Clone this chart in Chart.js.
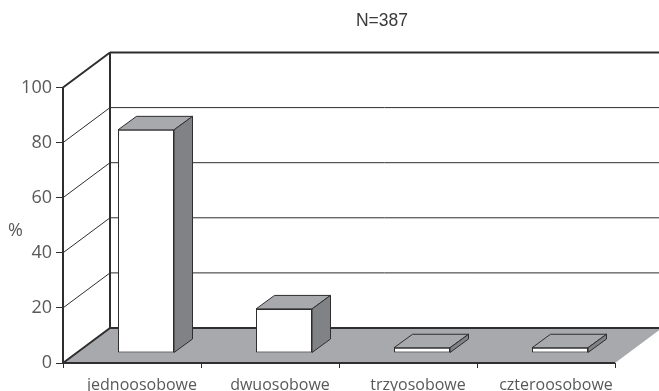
<!DOCTYPE html>
<html>
<head>
<meta charset="utf-8">
<style>
    html, body { margin: 0; padding: 0; background: #fff; overflow: hidden; }
    #wrap { width: 659px; height: 391px; }
</style>
<script src="https://cdn.jsdelivr.net/npm/chart.js@4"></script>
</head>
<body>
<div id="wrap"><canvas id="chart" width="659" height="391"></canvas></div>
<script>
var categories = ['jednoosobowe', 'dwuosobowe', 'trzyosobowe', 'czteroosobowe'];
var percentValues = [81, 16, 1.9, 1.9];
var yTicks = [0, 20, 40, 60, 80, 100];
var titleText = 'N=387';
var yAxisText = '%';

// fake 3D: wall depth and how far the bars sit into the floor
var WALL_DX = 47, WALL_DY = -35;
var BAR_DX = 14, BAR_DY = -10;
var SIDE_DX = 18.5, SIDE_DY = -13.5;
var DARK = '#2f2d2e';

function fillPoly(ctx, pts, fill, stroke, lw) {
    ctx.beginPath();
    ctx.moveTo(pts[0][0], pts[0][1]);
    for (var i = 1; i < pts.length; i++) {
        ctx.lineTo(pts[i][0], pts[i][1]);
    }
    ctx.closePath();
    if (fill) {
        ctx.fillStyle = fill;
        ctx.fill();
    }
    if (stroke) {
        ctx.strokeStyle = stroke;
        ctx.lineWidth = lw || 1;
        ctx.stroke();
    }
}

function line(ctx, x1, y1, x2, y2, color, lw) {
    ctx.beginPath();
    ctx.moveTo(x1, y1);
    ctx.lineTo(x2, y2);
    ctx.strokeStyle = color;
    ctx.lineWidth = lw;
    ctx.stroke();
}

var box3d = {
    id: 'box3d',
    beforeDatasetsDraw: function (chart) {
        var ctx = chart.ctx;
        var a = chart.chartArea;
        var y = chart.scales.y;
        var y0 = y.getPixelForValue(0);
        var backX = a.left + WALL_DX;

        ctx.save();
        fillPoly(ctx, [
            [a.left, y0], [a.right, y0],
            [a.right + WALL_DX, y0 + WALL_DY], [backX, y0 + WALL_DY]
        ], '#a7a9ac');

        yTicks.forEach(function (v) {
            var py = y.getPixelForValue(v);
            var edge = v === 0 || v === 100;
            line(ctx, a.left, py, backX, py + WALL_DY, DARK, edge ? 2 : 1);
            line(ctx, backX, py + WALL_DY, chart.width, py + WALL_DY, DARK, edge ? 2 : 1);
        });

        line(ctx, backX, y.getPixelForValue(100) + WALL_DY, backX, y0 + WALL_DY, DARK, 2);
        line(ctx, a.left, y.getPixelForValue(100), a.left, y0, DARK, 2);
        line(ctx, a.left, y0, a.right, y0, DARK, 2);
        ctx.restore();

        ctx.save();
        ctx.translate(BAR_DX, BAR_DY);
    },
    afterDatasetsDraw: function (chart) {
        var ctx = chart.ctx;
        chart.getDatasetMeta(0).data.forEach(function (bar) {
            var p = bar.getProps(['x', 'y', 'base', 'width'], true);
            var l = p.x - p.width / 2, r = p.x + p.width / 2;
            fillPoly(ctx, [
                [l, p.y], [r, p.y], [r + SIDE_DX, p.y + SIDE_DY], [l + SIDE_DX, p.y + SIDE_DY]
            ], '#a7a9ac', DARK, 1);
            fillPoly(ctx, [
                [r, p.y], [r + SIDE_DX, p.y + SIDE_DY],
                [r + SIDE_DX, p.base + SIDE_DY], [r, p.base]
            ], '#808285', DARK, 1);
        });
        ctx.restore();
    },
    afterDraw: function (chart) {
        var ctx = chart.ctx;
        ctx.save();
        ctx.fillStyle = '#3a3a3a';
        ctx.textAlign = 'center';
        ctx.textBaseline = 'middle';
        ctx.font = '17.5px "Liberation Sans"';
        ctx.fillText(titleText, 382, 21);
        ctx.fillStyle = '#58595b';
        ctx.font = '18px "Open Sans"';
        ctx.fillText(yAxisText, 15.5, 231);
        ctx.restore();
    }
};

new Chart(document.getElementById('chart'), {
    type: 'bar',
    data: {
        labels: categories,
        datasets: [{
            data: percentValues,
            backgroundColor: '#ffffff',
            borderColor: DARK,
            borderWidth: 1,
            borderSkipped: false,
            barPercentage: 56 / 138,
            categoryPercentage: 1
        }]
    },
    plugins: [box3d],
    options: {
        responsive: false,
        animation: false,
        layout: { padding: { top: 87.5, right: 44 } },
        plugins: {
            legend: { display: false },
            title: { display: false },
            tooltip: { enabled: false }
        },
        scales: {
            x: {
                afterFit: function (scale) { scale.height = 28; },
                border: { display: false },
                grid: { drawOnChartArea: false, color: DARK, tickLength: 5 },
                ticks: {
                    color: '#58595b',
                    font: { family: '"Open Sans"', size: 16 },
                    labelOffset: 10,
                    padding: 8,
                    maxRotation: 0
                }
            },
            y: {
                min: 0,
                max: 100,
                afterFit: function (scale) { scale.width = 63; },
                afterBuildTicks: function (scale) {
                    scale.ticks = yTicks.map(function (v) { return { value: v }; });
                },
                border: { display: false },
                grid: { drawOnChartArea: false, color: DARK, tickLength: 7 },
                ticks: {
                    color: '#58595b',
                    font: { family: '"Open Sans"', size: 18 },
                    padding: 4
                }
            }
        }
    }
});
</script>
</body>
</html>
